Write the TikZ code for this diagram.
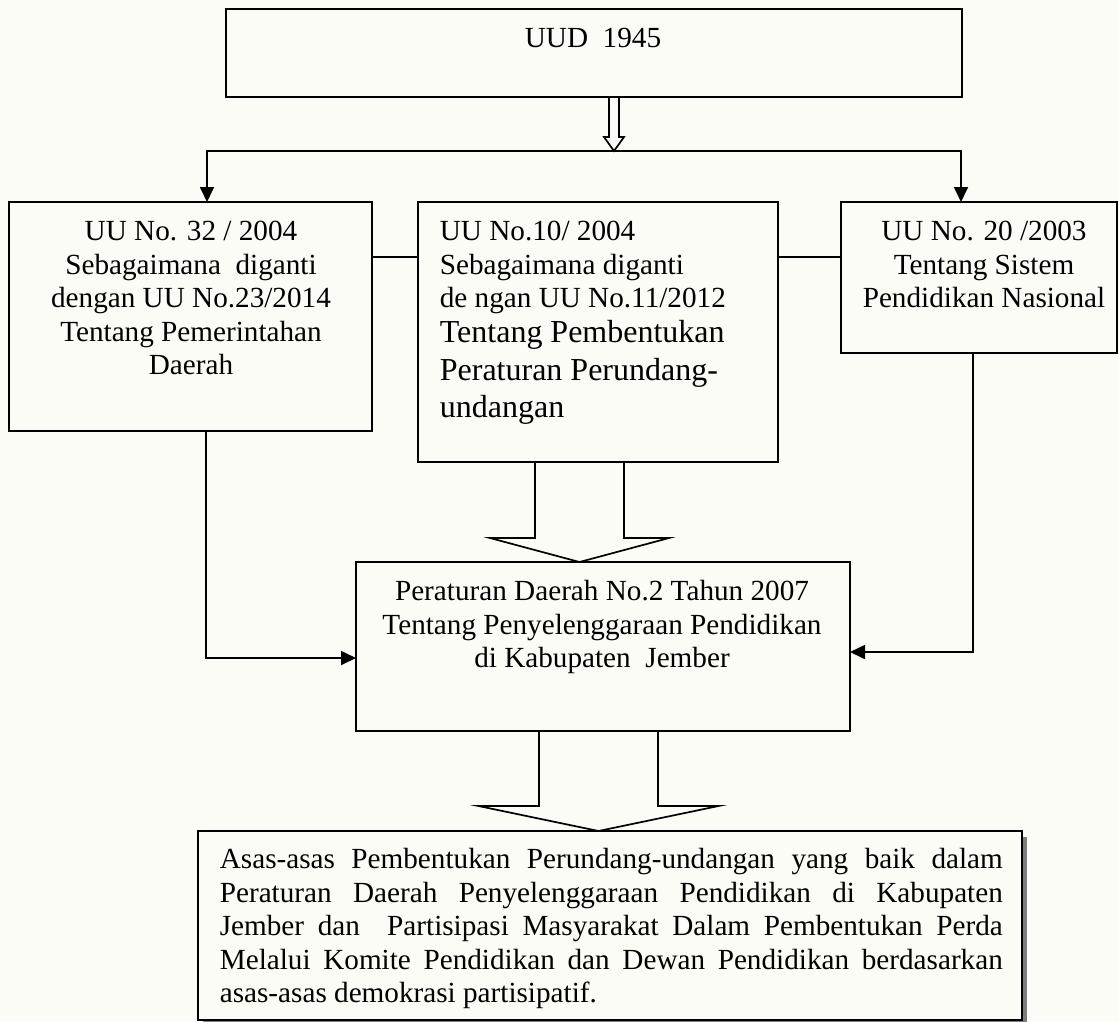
\documentclass[tikz,border=0pt]{standalone}
\usepackage{fontspec}
\setmainfont{Liberation Serif}
\usetikzlibrary{arrows.meta,calc,shadows}
\definecolor{bgc}{RGB}{252,252,247}
\definecolor{shadowc}{RGB}{125,125,125}
% hollow block arrow: start, shaft half width, shaft length, head half width, head length
\newcommand{\hollowarr}[5]{%
  \draw[hollow, shift={(#1)}] (-#2,0) -- (-#2,#3) -- (-#4,#3) -- (0,#3+#5) -- (#4,#3) -- (#2,#3) -- (#2,0);}
\begin{document}
\begin{tikzpicture}[x=1pt,y=-1pt,line width=1.7pt,
  box/.style={draw, inner sep=0pt, outer sep=0pt, anchor=north west},
  txt/.style={inner sep=0pt, font=\fontsize{29.2}{33.4}\selectfont},
  bigtxt/.style={inner sep=0pt, font=\fontsize{32}{37.5}\selectfont},
  arr/.style={-{Triangle[length=15pt,width=14pt]}},
  hollow/.style={line join=miter}]
\useasboundingbox (0,0) rectangle (1119,1021);
\fill[bgc] (0,0) rectangle (1119,1021);

% boxes
\node[box, minimum width=736pt, minimum height=88pt] (T) at (226,9) {};
\node[txt, anchor=base] (Tt) at (593,47) {UUD\ \ 1945};

\node[box, minimum width=363pt, minimum height=229pt] (L) at (9,202) {};
\node[txt, anchor=north, align=center] (Lt) at (191,216)
  {\rule{0pt}{24pt}UU No. 32 / 2004\\Sebagaimana\ \ diganti\\dengan UU No.23/2014\\Tentang Pemerintahan\\Daerah};

\node[box, minimum width=360pt, minimum height=260pt] (M) at (418,202) {};
\node[txt, anchor=north west, align=left] (Mt1) at (439,216)
  {\rule{0pt}{24pt}UU No.10/ 2004\\Sebagaimana diganti\\de ngan UU No.11/2012};
\node[bigtxt, anchor=north west, align=left] (Mt2) at (439,316)
  {\rule{0pt}{26pt}Tentang Pembentukan\\Peraturan Perundang-\\undangan};

\node[box, minimum width=276pt, minimum height=151pt] (R) at (841,202) {};
\node[txt, anchor=north, align=center] (Rt) at (984,216)
  {\rule{0pt}{24pt}UU No. 20 /2003\\Tentang Sistem\\Pendidikan Nasional};

\node[box, minimum width=494pt, minimum height=169pt] (C) at (356,562) {};
\node[txt, anchor=north, align=center] (Ct) at (602,576)
  {\rule{0pt}{24pt}Peraturan Daerah No.2 Tahun 2007\\Tentang Penyelenggaraan Pendidikan\\di Kabupaten\ \ Jember};

\node[box, fill=bgc, minimum width=824pt, minimum height=189pt,
  drop shadow={shadow xshift=5pt, shadow yshift=-6pt, fill=shadowc, opacity=1}] (B) at (198,831) {};
\node[txt, anchor=north west, text width=783pt, align=justify] (Bt) at (219,844)
  {\noindent\tolerance=10000 \hyphenpenalty=10000 \rule{0pt}{24pt}Asas-asas Pembentukan Perundang-undangan yang baik dalam\linebreak
   Peraturan Daerah Penyelenggaraan Pendidikan di Kabupaten\linebreak
   Jember dan\ \ Partisipasi Masyarakat Dalam Pembentukan Perda\linebreak
   Melalui Komite Pendidikan dan Dewan Pendidikan berdasarkan\linebreak
   asas-asas demokrasi partisipatif.};

% connectors
\hollowarr{$(T.south)+(20,0)$}{5}{40}{10}{14}
\coordinate (split) at ($(T.south)+(20,54)$);
\draw[arr] (split) -| ($(L.north west)+(198,0)$);
\draw[arr] (split) -| ($(R.north west)+(120,0)$);
\draw ($(L.north east)+(0,55)$) -- ($(M.north west)+(0,55)$);
\draw ($(M.north east)+(0,55)$) -- ($(R.north west)+(0,55)$);
\hollowarr{$(M.south)+(-18.5,0)$}{44.5}{76}{89.5}{24}
\draw[arr] ($(L.south west)+(197,0)$) |- ($(C.north west)+(0,96)$);
\draw[arr] ($(R.south west)+(132,0)$) |- ($(C.north east)+(0,90)$);
\hollowarr{$(C.south)+(-4.5,0)$}{59.5}{75}{120}{25}
\end{tikzpicture}
\end{document}
